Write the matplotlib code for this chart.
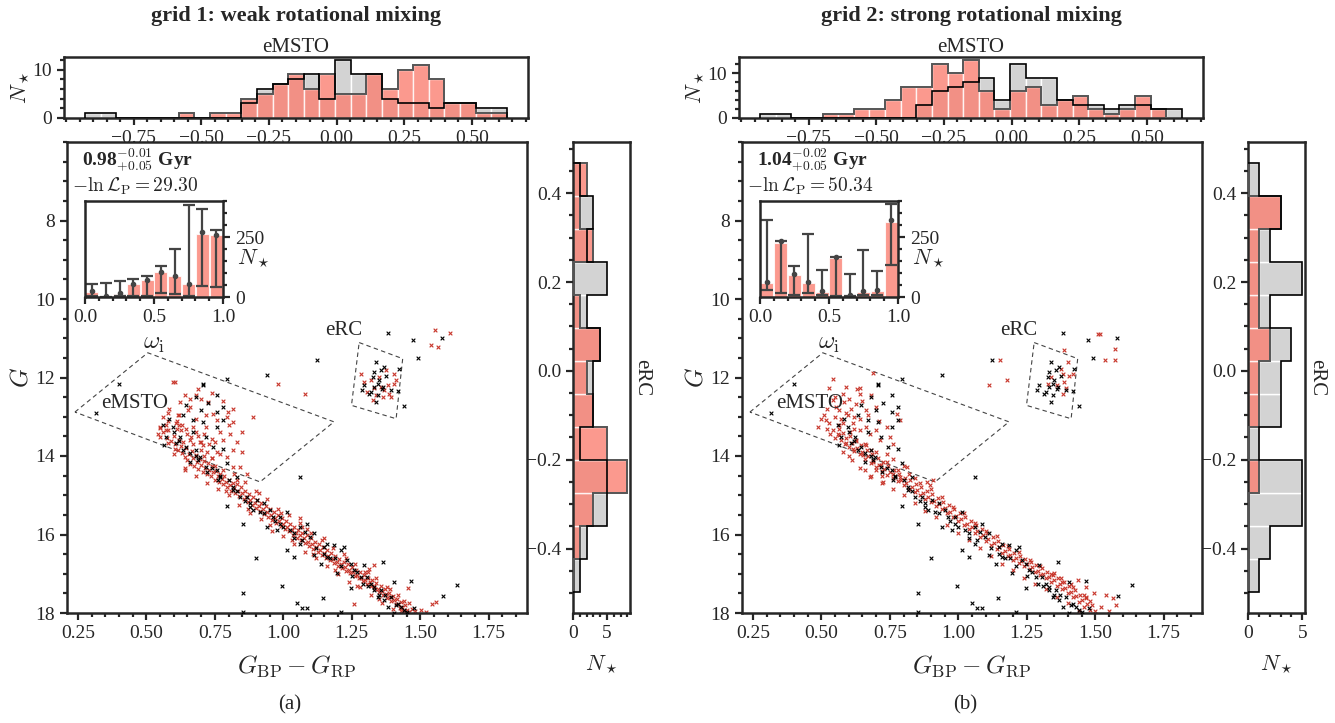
import numpy as np
import matplotlib
matplotlib.use('Agg')
import matplotlib.pyplot as plt
from matplotlib.ticker import MultipleLocator, FixedLocator

W, H = 1335, 723
plt.rcParams.update({
    'font.family': 'serif', 'font.serif': ['Liberation Serif', 'DejaVu Serif'],
    'mathtext.fontset': 'cm',
    'axes.edgecolor': '#262626', 'axes.linewidth': 1.8,
    'xtick.color': '#262626', 'ytick.color': '#262626',
    'text.color': '#262626', 'axes.labelcolor': '#262626',
    'xtick.labelsize': 14, 'ytick.labelsize': 14,
    'xtick.major.width': 1.6, 'ytick.major.width': 1.6,
    'xtick.minor.width': 1.6, 'ytick.minor.width': 1.6,
    'xtick.major.size': 5, 'ytick.major.size': 5,
    'xtick.minor.size': 3.2, 'ytick.minor.size': 3.2,
    'xtick.direction': 'out', 'ytick.direction': 'out',
})

# ---------------- data ----------------
titles = ['grid 1: weak rotational mixing', 'grid 2: strong rotational mixing']
age_values = ['0.98', '1.04']
age_errs = [r'$^{-0.01}_{+0.05}$', r'$^{-0.02}_{+0.05}$']
lnL_texts = [r'$-\ln\mathcal{L}_{\rm P}=29.30$', r'$-\ln\mathcal{L}_{\rm P}=50.34$']
panel_labels = ['(a)', '(b)']

# eMSTO histogram (bins of the offset)
mst_edges = np.linspace(-0.93, 0.63, 28)
mst_obs = [1, 1, 0, 0, 0, 0, 0, 0, 0, 0, 3, 6, 7, 8, 9, 4, 12, 9, 9, 4, 3, 3, 2, 3, 3, 2, 2]
mst_grid1 = [0, 0, 0, 0, 0, 0, 1, 0, 1, 1, 4, 5, 7, 9, 6, 9, 5, 5, 9, 6, 10, 11, 8, 3, 3, 1, 1]
mst_grid2 = [0, 0, 0, 0, 1, 1, 2, 2, 4, 7, 7, 12, 10, 13, 6, 2, 6, 7, 3, 4, 5, 2, 1, 2, 5, 2, 0]

# eRC histogram (bottom -> top)
erc_edges = np.linspace(-0.497, 0.467, 14)
erc_obs = [1, 2, 5, 5, 1, 3, 3, 4, 2, 5, 2, 3, 1]
erc_grid1 = [0, 1, 3, 8, 5, 3, 2, 4, 1, 0, 3, 1, 2]
erc_grid2 = [0, 0, 0, 1, 0, 1, 1, 2, 1, 1, 1, 3, 0]

# inset: omega_i distribution
omega_centers = [0.05, 0.15, 0.25, 0.35, 0.45, 0.55, 0.65, 0.75, 0.85, 0.95]
om_bar1 = [20, 5, 14, 55, 69, 103, 88, 55, 264, 257]
om_pt1 = [23, 5, 16, 55, 71, 103, 89, 55, 270, 260]
om_lo1 = [3, 0, 3, 3, 3, 16, 14, 5, 44, 40]
om_hi1 = [55, 60, 65, 74, 89, 129, 198, 383, 367, 280]
om_bar2 = [60, 226, 93, 60, 21, 162, 7, 21, 25, 312]
om_pt2 = [62, 232, 97, 62, 24, 167, 7, 24, 28, 319]
om_lo2 = [28, 18, 7, 18, 7, 4, 4, 7, 7, 135]
om_hi2 = [322, 232, 128, 264, 111, 167, 97, 197, 107, 389]

# region boxes (colour, G)
emsto_box = [(0.239, 12.88), (0.505, 11.37), (1.185, 13.13), (0.915, 14.66)]
erc_box = [(1.277, 11.11), (1.436, 11.52), (1.412, 13.05), (1.249, 12.71)]

# observed stars (colour, G)
obs_pts = [
    (0.40, 12.16), (0.317, 12.90), (0.793, 12.05), (0.942, 11.93), (1.124, 11.55), (1.381, 10.87), (1.473, 11.05),
    (1.491, 11.50), (1.579, 11.00), (1.060, 14.53), (1.442, 12.73), (0.793, 15.27), (0.854, 15.72), (0.901, 16.59),
    (0.995, 17.31), (0.852, 17.48), (0.852, 17.97), (1.050, 17.74), (1.068, 17.88), (1.087, 17.88), (1.144, 17.61),
    (1.21, 17.98), (1.635, 17.29), (1.583, 17.56), (1.363, 16.71), (1.405, 17.20), (1.467, 17.18), (1.479, 17.88),
    (1.338, 11.61), (1.356, 11.82), (1.326, 11.99), (1.375, 11.95), (1.344, 12.16), (1.295, 12.20), (1.363, 12.24),
    (1.289, 12.33), (1.320, 12.37), (1.338, 12.62), (1.393, 12.33), (1.350, 12.07), (1.418, 12.34), (1.332, 11.86),
    (1.369, 11.73), (1.313, 12.41), (1.424, 11.78), (1.345, 12.45), (1.36, 12.30), (1.33, 12.25),
    (0.707, 12.20), (0.707, 12.16), (0.756, 12.44), (0.725, 12.65), (0.682, 12.50), (0.646, 12.71), (0.701, 12.84),
    (0.780, 12.75), (0.756, 12.88), (0.780, 13.09), (0.670, 13.09), (0.633, 12.96), (0.584, 13.07), (0.560, 13.22),
    (0.597, 13.26), (0.707, 13.13), (0.756, 13.26), (0.719, 13.51), (0.670, 13.39), (0.621, 13.51), (0.572, 13.51),
    (0.609, 13.68), (0.646, 13.77), (0.566, 13.73), (0.744, 13.77), (0.780, 13.81), (0.695, 14.02), (0.719, 14.28),
    (0.756, 14.36), (0.793, 14.19), (0.658, 14.15), (0.682, 13.85), (0.633, 13.85), (0.768, 14.53), (0.830, 14.53),
    (0.817, 14.79), (0.60, 13.40), (0.62, 13.62), (0.66, 13.92), (0.69, 14.10), (0.74, 14.30), (0.77, 14.50),
    (0.80, 14.62), (0.866, 15.04), (0.903, 15.13), (0.928, 15.21), (0.915, 15.42), (0.964, 15.55), (0.989, 15.72),
    (0.977, 15.89), (1.026, 15.89), (1.038, 16.10), (1.062, 16.23), (1.087, 15.72), (1.111, 15.97), (1.148, 16.31),
    (1.185, 16.27), (1.209, 16.40), (1.160, 16.57), (1.234, 16.65), (1.258, 16.91), (1.295, 16.78), (1.283, 17.08),
    (1.320, 17.25), (1.356, 17.42), (1.393, 17.59), (1.418, 17.76), (1.442, 17.92), (1.344, 17.59), (1.246, 17.37),
    (1.381, 17.84), (1.405, 18.0), (1.197, 16.99), (1.136, 16.74), (1.111, 16.51), (1.013, 16.40), (1.038, 16.57),
    (0.940, 15.80), (0.879, 15.30), (0.842, 15.04), (0.817, 14.87), (0.891, 15.38), (0.952, 15.38), (1.013, 15.42),
    (0.989, 15.55), (1.062, 15.80), (1.081, 15.93), (1.099, 16.06), (1.160, 16.23), (1.222, 16.31), (1.246, 16.74),
    (1.307, 17.08), (1.332, 17.42), (1.369, 17.67), (1.430, 17.84),
    (0.88, 15.20), (0.93, 15.45), (0.97, 15.65), (1.00, 15.80), (1.04, 15.95), (1.07, 16.15), (1.12, 16.35),
    (1.17, 16.60), (1.21, 16.80), (1.25, 17.05), (1.29, 17.25), (1.33, 17.35), (1.37, 17.55), (1.41, 17.80),
    (1.45, 17.98), (0.83, 14.90), (0.86, 15.15), (0.76, 14.60), (0.72, 14.40), (0.68, 14.00), (1.15, 16.50),
    (1.19, 16.60), (1.27, 16.95), (1.31, 17.30), (1.35, 17.55),
]

# synthetic stars, grid 1
grid1_pts = [
    (0.55, 13.28), (0.56, 13.40), (0.57, 13.22), (0.575, 13.55), (0.58, 13.35), (0.59, 13.62), (0.60, 13.48),
    (0.605, 13.70), (0.61, 13.30), (0.615, 13.85), (0.62, 13.58), (0.625, 13.75), (0.63, 13.92), (0.635, 13.65),
    (0.64, 14.02), (0.645, 13.80), (0.65, 14.10), (0.655, 13.95), (0.66, 14.20), (0.665, 13.88), (0.67, 14.05),
    (0.675, 14.25), (0.68, 13.98), (0.685, 14.15), (0.69, 14.32), (0.695, 14.08), (0.70, 14.22), (0.705, 14.40),
    (0.71, 14.12), (0.715, 14.30), (0.72, 14.45), (0.725, 14.18), (0.73, 14.35), (0.735, 14.52), (0.74, 14.25),
    (0.745, 14.42), (0.75, 14.60), (0.755, 14.38), (0.76, 14.50), (0.765, 14.65), (0.77, 14.45), (0.775, 14.58),
    (0.78, 14.72), (0.785, 14.50), (0.79, 14.66), (0.795, 14.80), (0.80, 14.60), (0.805, 14.75), (0.81, 14.88),
    (0.815, 14.68), (0.82, 14.82), (0.825, 14.95), (0.83, 14.72), (0.835, 14.88), (0.84, 15.02), (0.845, 14.80),
    (0.85, 14.95), (0.855, 15.10), (0.86, 14.90), (0.865, 15.05), (0.87, 15.18), (0.875, 14.98), (0.88, 15.12),
    (0.885, 15.25), (0.89, 15.05), (0.895, 15.20), (0.90, 15.32), (0.905, 15.12), (0.91, 15.28), (0.915, 15.40),
    (0.92, 15.20), (0.925, 15.35), (0.93, 15.48), (0.935, 15.28), (0.94, 15.42), (0.945, 15.55), (0.95, 15.35),
    (0.955, 15.50), (0.96, 15.62), (0.965, 15.42), (0.97, 15.58), (0.975, 15.70), (0.98, 15.50), (0.985, 15.65),
    (0.99, 15.78), (0.995, 15.58), (1.00, 15.72), (1.005, 15.85), (1.01, 15.65), (1.015, 15.80), (1.02, 15.92),
    (1.025, 15.72), (1.03, 15.88), (1.035, 16.00), (1.04, 15.80), (1.045, 15.95), (1.05, 16.08), (1.055, 15.88),
    (1.06, 16.02), (1.065, 16.15), (1.07, 15.95), (1.075, 16.10), (1.08, 16.22), (1.085, 16.02), (1.09, 16.18),
    (1.095, 16.30), (1.10, 16.10), (1.105, 16.25), (1.11, 16.38), (1.115, 16.18), (1.12, 16.32), (1.125, 16.45),
    (1.13, 16.25), (1.135, 16.40), (1.14, 16.52), (1.145, 16.32), (1.15, 16.48), (1.155, 16.60), (1.16, 16.40),
    (1.165, 16.55), (1.17, 16.66), (1.175, 16.48), (1.18, 16.62), (1.185, 16.72), (1.19, 16.55), (1.195, 16.70),
    (1.20, 16.80), (1.205, 16.62), (1.21, 16.76), (1.215, 16.86), (1.22, 16.70), (1.225, 16.84), (1.23, 16.92),
    (1.235, 16.76), (1.24, 16.90), (1.245, 16.98), (1.25, 16.82), (1.255, 16.96), (1.26, 17.05), (1.265, 16.90),
    (1.27, 17.02), (1.275, 17.12), (1.28, 16.96), (1.285, 17.10), (1.29, 17.18), (1.295, 17.02), (1.30, 17.16),
    (1.305, 17.25), (1.31, 17.10), (1.315, 17.22), (1.32, 17.32), (1.325, 17.16), (1.33, 17.30), (1.335, 17.40),
    (1.34, 17.24), (1.345, 17.38), (1.35, 17.46), (1.355, 17.32), (1.36, 17.45), (1.365, 17.55), (1.37, 17.40),
    (1.375, 17.52), (1.38, 17.62), (1.385, 17.48), (1.39, 17.60), (1.395, 17.70), (1.40, 17.56), (1.405, 17.68),
    (1.41, 17.78), (1.415, 17.64), (1.42, 17.76), (1.425, 17.86), (1.43, 17.72), (1.435, 17.84), (1.44, 17.94),
    (1.445, 17.80), (1.45, 17.92), (1.46, 17.98), (1.47, 17.90), (1.48, 17.96),
    (0.58, 13.10), (0.60, 13.95), (0.62, 13.20), (0.64, 14.30), (0.66, 13.60), (0.68, 14.50), (0.70, 13.85),
    (0.72, 14.70), (0.74, 14.05), (0.76, 14.85), (0.78, 14.35), (0.80, 15.00), (0.82, 14.45), (0.84, 15.25),
    (0.86, 14.65), (0.88, 15.45), (0.90, 14.90), (0.92, 15.60), (0.94, 15.10), (0.96, 15.90), (0.98, 15.35),
    (1.00, 16.05), (1.02, 15.50), (1.04, 16.25), (1.06, 15.70), (1.08, 16.45), (1.10, 15.95), (1.12, 16.60),
    (1.14, 16.15), (1.16, 16.80), (1.18, 16.35), (1.20, 17.00), (1.22, 16.50), (1.24, 17.20), (1.26, 16.75),
    (1.28, 17.35), (1.30, 16.95), (1.32, 17.55), (1.34, 17.10), (1.36, 17.75), (1.38, 17.35), (1.40, 17.90),
    (1.42, 17.55), (1.44, 17.70), (1.46, 17.75),
    (0.67, 13.70), (0.71, 14.00), (0.75, 14.25), (0.79, 14.90), (0.83, 14.60), (0.87, 15.35), (0.91, 14.95),
    (0.95, 15.75), (0.99, 15.45), (1.03, 16.15), (1.07, 15.80), (1.11, 16.50), (1.15, 16.10), (1.19, 16.90),
    (1.23, 16.60), (1.27, 17.30), (1.31, 16.95), (1.35, 17.65), (1.39, 17.40), (1.43, 17.95),
    (0.56, 13.00), (0.58, 12.90), (0.61, 13.10), (0.63, 13.20), (0.65, 13.45), (0.67, 13.25), (0.69, 13.50),
    (0.71, 13.45), (0.73, 13.70), (0.75, 13.65), (0.77, 13.95), (0.74, 14.05), (0.72, 13.90), (0.70, 13.65),
    (0.62, 12.95), (0.66, 12.75), (0.70, 12.55), (0.74, 12.40), (0.78, 12.60), (0.80, 13.20), (0.83, 13.65),
    (0.85, 13.90), (0.69, 12.30), (0.64, 12.45),
    (0.603, 12.11), (0.658, 12.54), (0.682, 12.45), (0.621, 12.62), (0.584, 12.79), (0.725, 12.62), (0.817, 12.79),
    (0.744, 12.92), (0.793, 13.01), (0.817, 13.13), (0.848, 13.39), (0.891, 13.01), (0.548, 13.26), (0.542, 13.43),
    (0.572, 13.34), (0.609, 13.17), (0.646, 13.30), (0.682, 13.39), (0.719, 13.26), (0.768, 13.39), (0.805, 13.43),
    (0.780, 13.60), (0.738, 13.56), (0.695, 13.64), (0.817, 13.85), (0.793, 14.02), (0.842, 14.28), (0.756, 13.90),
    (0.707, 13.73), (0.640, 14.36), (0.603, 13.81), (0.578, 13.68), (0.548, 13.51), (0.866, 14.45), (0.664, 13.51),
    (0.627, 13.34), (0.756, 13.09), (0.799, 12.88), (0.719, 12.96), (0.682, 13.05), (0.652, 12.84), (0.615, 12.96),
    (1.283, 11.90), (1.320, 12.07), (1.356, 12.24), (1.381, 12.20), (1.405, 11.90), (1.405, 12.16), (1.338, 12.45),
    (1.363, 12.50), (1.393, 12.50), (1.307, 12.37), (1.375, 11.82), (1.350, 11.99), (1.332, 12.28), (1.387, 12.41),
    (1.295, 12.11), (1.412, 12.07), (1.326, 12.58), (1.369, 12.33),
    (0.597, 12.11), (0.979, 12.17), (1.081, 12.41), (1.540, 11.18), (1.565, 11.22), (1.553, 10.80), (1.608, 10.87),
    (1.543, 17.77), (1.559, 17.71), (1.522, 17.97), (1.454, 17.37), (1.332, 16.78), (1.314, 16.87), (1.062, 15.59),
    (1.087, 15.85), (1.258, 17.76), (0.817, 14.28), (1.503, 17.92),
]

# synthetic stars, grid 2
grid2_pts = [
    (0.56, 13.45), (0.565, 13.30), (0.57, 13.60), (0.58, 13.42), (0.585, 13.70), (0.59, 13.55), (0.60, 13.78),
    (0.605, 13.50), (0.61, 13.68), (0.62, 13.88), (0.625, 13.62), (0.63, 13.80), (0.64, 13.95), (0.645, 13.72),
    (0.65, 13.90), (0.66, 14.08), (0.665, 13.85), (0.67, 14.00), (0.68, 14.18), (0.685, 13.95), (0.69, 14.12),
    (0.70, 14.28), (0.705, 14.05), (0.71, 14.22), (0.72, 14.38), (0.725, 14.15), (0.73, 14.32), (0.74, 14.48),
    (0.745, 14.25), (0.75, 14.42), (0.76, 14.56), (0.765, 14.35), (0.77, 14.52), (0.78, 14.64), (0.785, 14.45),
    (0.79, 14.60), (0.80, 14.74), (0.805, 14.55), (0.81, 14.70), (0.82, 14.84), (0.825, 14.62), (0.83, 14.78),
    (0.84, 14.92), (0.845, 14.72), (0.85, 14.86), (0.86, 15.00), (0.865, 14.80), (0.87, 14.95), (0.88, 15.10),
    (0.885, 14.90), (0.89, 15.05), (0.90, 15.18), (0.905, 14.98), (0.91, 15.14), (0.92, 15.28), (0.925, 15.08),
    (0.93, 15.22), (0.94, 15.36), (0.945, 15.16), (0.95, 15.32), (0.96, 15.46), (0.965, 15.26), (0.97, 15.42),
    (0.98, 15.56), (0.985, 15.36), (0.99, 15.52), (1.00, 15.66), (1.005, 15.46), (1.01, 15.60), (1.02, 15.76),
    (1.025, 15.56), (1.03, 15.72), (1.04, 15.86), (1.045, 15.66), (1.05, 15.82), (1.06, 15.96), (1.065, 15.76),
    (1.07, 15.92), (1.08, 16.06), (1.085, 15.86), (1.09, 16.02), (1.10, 16.16), (1.105, 15.96), (1.11, 16.12),
    (1.12, 16.26), (1.125, 16.06), (1.13, 16.22), (1.14, 16.36), (1.145, 16.16), (1.15, 16.32), (1.16, 16.46),
    (1.165, 16.26), (1.17, 16.42), (1.18, 16.56), (1.185, 16.36), (1.19, 16.52), (1.20, 16.64), (1.205, 16.46),
    (1.21, 16.60), (1.22, 16.72), (1.225, 16.55), (1.23, 16.68), (1.24, 16.80), (1.245, 16.62), (1.25, 16.76),
    (1.26, 16.88), (1.265, 16.70), (1.27, 16.84), (1.28, 16.96), (1.285, 16.78), (1.29, 16.92), (1.30, 17.04),
    (1.305, 16.86), (1.31, 17.00), (1.32, 17.12), (1.325, 16.95), (1.33, 17.08), (1.34, 17.20), (1.345, 17.04),
    (1.35, 17.16), (1.36, 17.30), (1.365, 17.12), (1.37, 17.26), (1.38, 17.40), (1.385, 17.22), (1.39, 17.36),
    (1.40, 17.50), (1.405, 17.32), (1.41, 17.46), (1.42, 17.60), (1.425, 17.42), (1.43, 17.56), (1.44, 17.72),
    (1.445, 17.54), (1.45, 17.68), (1.46, 17.84), (1.465, 17.62), (1.47, 17.78), (1.48, 17.92), (1.49, 17.80),
    (1.50, 17.96),
    (0.58, 13.15), (0.60, 14.00), (0.62, 13.30), (0.64, 14.30), (0.66, 13.70), (0.68, 14.50), (0.70, 13.90),
    (0.72, 14.70), (0.74, 14.15), (0.76, 14.85), (0.78, 14.35), (0.80, 15.00), (0.82, 14.45), (0.84, 15.20),
    (0.86, 14.70), (0.88, 15.40), (0.90, 14.85), (0.92, 15.55), (0.94, 15.05), (0.96, 15.75), (0.98, 15.30),
    (1.00, 15.95), (1.02, 15.45), (1.04, 16.15), (1.06, 15.70), (1.08, 16.35), (1.10, 15.90), (1.12, 16.55),
    (1.14, 16.05), (1.16, 16.75), (1.18, 16.30), (1.20, 16.90), (1.22, 16.45), (1.24, 17.10), (1.26, 16.65),
    (1.28, 17.25), (1.30, 16.80), (1.32, 17.40), (1.34, 17.00), (1.36, 17.60), (1.38, 17.20), (1.40, 17.75),
    (1.42, 17.35), (1.44, 17.95), (1.46, 17.55), (1.48, 17.70), (1.52, 17.85), (1.55, 17.95),
    (1.497, 17.50), (1.540, 17.54), (1.565, 17.63), (1.577, 17.80), (1.411, 17.25), (1.436, 17.16), (1.350, 16.99),
    (1.375, 17.12), (1.467, 17.33), (1.467, 17.59),
    (0.542, 12.03), (0.529, 12.28), (0.591, 12.24), (0.640, 12.28), (0.640, 12.41), (0.578, 12.41), (0.689, 11.89),
    (0.542, 12.58), (0.584, 12.62), (0.627, 12.67), (0.664, 12.84), (0.566, 12.84), (0.511, 12.96), (0.548, 13.01),
    (0.597, 12.96), (0.640, 13.05), (0.486, 13.26), (0.529, 13.17), (0.566, 13.22), (0.615, 13.17), (0.664, 13.26),
    (0.701, 13.34), (0.738, 13.26), (0.775, 12.92), (0.787, 13.09), (0.750, 13.51), (0.713, 13.60), (0.676, 13.43),
    (0.640, 13.34), (0.603, 13.39), (0.566, 13.47), (0.591, 13.68), (0.627, 13.60), (0.664, 13.73), (0.738, 13.94),
    (0.762, 14.07), (0.676, 14.53), (0.701, 14.36), (0.762, 14.45), (0.811, 14.28), (0.885, 14.66), (0.909, 14.62),
    (0.897, 14.74), (0.725, 14.66), (0.787, 14.53), (0.615, 13.81), (0.652, 13.98), (0.689, 14.15), (0.719, 14.24),
    (0.542, 13.34), (0.517, 13.09), (0.554, 12.75), (0.609, 12.79),
    (0.50, 13.05), (0.52, 12.80), (0.53, 13.45), (0.55, 12.50), (0.57, 13.05), (0.59, 12.90), (0.60, 12.55),
    (0.62, 13.00), (0.63, 12.30), (0.65, 12.60), (0.67, 12.95), (0.68, 12.45), (0.70, 12.75), (0.71, 13.10),
    (0.55, 13.55), (0.58, 13.90), (0.52, 13.30), (0.61, 14.10), (0.66, 14.35), (0.72, 14.50), (0.80, 14.25),
    (0.84, 14.55), (0.76, 13.70), (0.68, 13.85),
    (1.375, 11.78), (1.399, 11.61), (1.381, 11.90), (1.338, 11.99), (1.387, 12.11), (1.362, 12.20), (1.405, 11.95),
    (1.418, 11.90), (1.381, 12.41), (1.393, 12.28), (1.326, 12.16), (1.387, 11.31),
    (1.154, 11.55), (1.111, 12.20), (1.179, 12.07), (1.510, 10.88), (1.516, 10.88), (1.571, 11.27), (1.534, 11.55),
    (1.573, 11.55),
]

panels = [
    dict(dx=0, model=grid1_pts, mst=mst_grid1, erc=erc_grid1, bar=om_bar1, pt=om_pt1, lo=om_lo1, hi=om_hi1),
    dict(dx=675, model=grid2_pts, mst=mst_grid2, erc=erc_grid2, bar=om_bar2, pt=om_pt2, lo=om_lo2, hi=om_hi2),
]

GRAY = '#d3d3d3'
SALMON = '#fa8072'
RED = '#c8362b'


def rect(x0, y0, x1, y1):
    return [x0 / W, 1 - y1 / H, (x1 - x0) / W, (y1 - y0) / H]


fig = plt.figure(figsize=(W / 100, H / 100), dpi=100)

for i, p in enumerate(panels):
    dx = p['dx']
    # ---------- main CMD ----------
    ax = fig.add_axes(rect(67 + dx, 142, 527 + dx, 613))
    mod = np.array(p['model'])
    obs = np.array(obs_pts)
    ax.scatter(mod[:, 0], mod[:, 1], marker='x', s=7, linewidths=0.8, color=RED, zorder=2)
    ax.scatter(obs[:, 0], obs[:, 1], marker='x', s=7, linewidths=0.8, color='black', zorder=3)
    for box in (emsto_box, erc_box):
        bx = [b[0] for b in box] + [box[0][0]]
        by = [b[1] for b in box] + [box[0][1]]
        ax.plot(bx, by, ls=(0, (4, 3)), color='#444444', lw=0.8, zorder=1)
    ax.text(0.335, 12.67, 'eMSTO', fontsize=15, va='center', ha='left')
    ax.text(1.22, 10.8, 'eRC', fontsize=15, va='center', ha='center')
    ax.set_xlim(0.21, 1.89)
    ax.set_ylim(18, 6)
    ax.xaxis.set_major_locator(FixedLocator([0.25, 0.5, 0.75, 1.0, 1.25, 1.5, 1.75]))
    ax.xaxis.set_minor_locator(MultipleLocator(0.05))
    ax.yaxis.set_major_locator(FixedLocator([8, 10, 12, 14, 16, 18]))
    ax.yaxis.set_minor_locator(MultipleLocator(0.5))
    ax.set_xlabel(r'$G_{\rm BP}-G_{\rm RP}$', fontsize=18)
    ax.set_ylabel(r'$G$', fontsize=18)
    ax.xaxis.set_label_coords(0.5, -0.085)
    ax.yaxis.set_label_coords(-0.075, 0.5)
    ax.text(0.033, 0.963, age_values[i] + age_errs[i] + ' Gyr', transform=ax.transAxes, fontsize=14,
            fontweight='bold', va='center', ha='left')
    ax.text(0.011, 0.905, lnL_texts[i], transform=ax.transAxes, fontsize=14, va='center', ha='left')

    # ---------- inset ----------
    ins = fig.add_axes(rect(85 + dx, 201, 223 + dx, 297))
    ins.bar(omega_centers, p['bar'], width=0.095, color=SALMON, alpha=0.8, edgecolor='white', linewidth=0.8)
    pt = np.array(p['pt'])
    yerr = np.array([pt - np.array(p['lo']), np.array(p['hi']) - pt])
    ins.errorbar(omega_centers, pt, yerr=yerr, fmt='o', ms=3, color='#444444', ecolor='#444444',
                 elinewidth=1.6, capsize=4, capthick=1.6)
    ins.set_xlim(0, 1)
    ins.set_ylim(0, 400)
    ins.xaxis.set_major_locator(FixedLocator([0.0, 0.5, 1.0]))
    ins.xaxis.set_minor_locator(MultipleLocator(0.1))
    ins.yaxis.set_major_locator(FixedLocator([0, 250]))
    ins.yaxis.set_minor_locator(MultipleLocator(50))
    ins.tick_params(axis='y', which='both', left=False, right=True, labelleft=False, labelright=True)
    ins.set_xlabel(r'$\omega_{\rm i}$', fontsize=18)
    ins.xaxis.set_label_coords(0.5, -0.38)
    ins.text(1.1, 0.40, r'$N_\star$', transform=ins.transAxes, fontsize=16, va='center', ha='left')

    # ---------- top histogram (eMSTO) ----------
    axt = fig.add_axes(rect(64 + dx, 57, 528 + dx, 118))
    e = mst_edges
    axt.bar(e[:-1], mst_obs, width=np.diff(e), align='edge', color=GRAY, edgecolor='white', linewidth=1.0, zorder=1)
    axt.bar(e[:-1], p['mst'], width=np.diff(e), align='edge', color=SALMON, alpha=0.8,
            edgecolor='white', linewidth=1.0, zorder=2)
    axt.stairs(p['mst'], e, color='#555555', linewidth=1.4, zorder=3)
    axt.stairs(mst_obs, e, color='black', linewidth=1.2, zorder=4)
    axt.xaxis.set_major_locator(FixedLocator([-0.75, -0.5, -0.25, 0.0, 0.25, 0.5]))
    axt.xaxis.set_minor_locator(MultipleLocator(0.05))
    axt.yaxis.set_major_locator(FixedLocator([0, 10]))
    axt.yaxis.set_minor_locator(MultipleLocator(2))
    axt.set_title('eMSTO', fontsize=15, pad=3)
    axt.set_ylabel(r'$N_\star$', fontsize=16)
    axt.yaxis.set_label_coords(-0.07, 0.5)

    # ---------- right histogram (eRC) ----------
    axr = fig.add_axes(rect(573 + dx, 142, 630 + dx, 613))
    e = erc_edges
    axr.barh(e[:-1], erc_obs, height=np.diff(e), align='edge', color=GRAY, edgecolor='white', linewidth=1.0, zorder=1)
    axr.barh(e[:-1], p['erc'], height=np.diff(e), align='edge', color=SALMON, alpha=0.8,
             edgecolor='white', linewidth=1.0, zorder=2)
    axr.stairs(p['erc'], e, orientation='horizontal', color='#555555', linewidth=1.4, zorder=3)
    axr.stairs(erc_obs, e, orientation='horizontal', color='black', linewidth=1.2, zorder=4)
    axr.xaxis.set_major_locator(FixedLocator([0, 5]))
    axr.xaxis.set_minor_locator(MultipleLocator(1))
    axr.yaxis.set_major_locator(FixedLocator([-0.4, -0.2, 0.0, 0.2, 0.4]))
    axr.yaxis.set_minor_locator(MultipleLocator(0.05))
    axr.set_xlabel(r'$N_\star$', fontsize=16)
    axr.xaxis.set_label_coords(0.5, -0.085)
    axr.yaxis.set_label_position('right')
    axr.set_ylabel('eRC', fontsize=15, rotation=-90, va='bottom')
    axr.yaxis.set_label_coords(1.03, 0.5)

    fig.text((296 + dx) / W, 1 - 16 / H, titles[i], fontsize=16, fontweight='bold', ha='center', va='center')
    fig.text((290 + dx) / W, 1 - 705 / H, panel_labels[i], fontsize=15, ha='center', va='center')

fig.savefig('out.png', dpi=100)
